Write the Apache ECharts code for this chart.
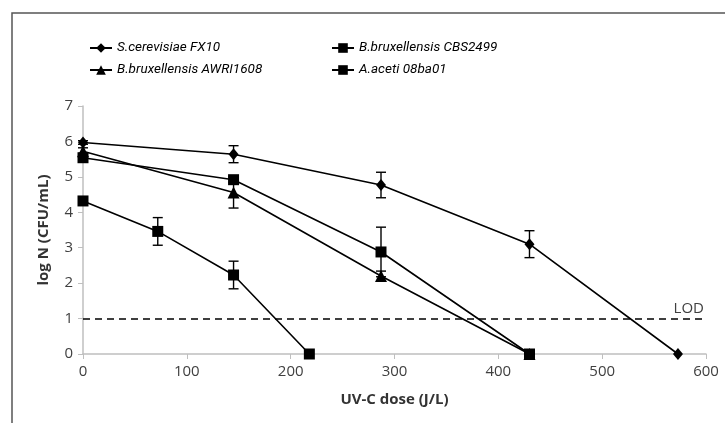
<!DOCTYPE html>
<html>
<head>
<meta charset="utf-8">
<script src="https://cdn.jsdelivr.net/npm/echarts@6/dist/echarts.min.js"></script>
<style>
  html, body { margin: 0; padding: 0; background: #fff; }
  #chart { width: 725px; height: 423px; }
</style>
</head>
<body>
<div id="chart"></div>
<script>
const seriesNames = [
  "S.cerevisiae FX10",
  "B.bruxellensis AWRI1608",
  "B.bruxellensis CBS2499",
  "A.aceti 08ba01",
];
const seriesSymbols = ["diamond", "triangle", "rect", "rect"];

// [dose, logN] pairs and matching error (±)
const scerevisiaeData = [[0, 5.97], [145, 5.64], [287, 4.77], [430, 3.1], [573, 0]];
const scerevisiaeErr = [0.05, 0.24, 0.36, 0.38, 0];
const awriData = [[0, 5.72], [145, 4.56], [287, 2.2], [430, 0]];
const awriErr = [0.1, 0.44, 0.14, 0];
const cbsData = [[0, 5.54], [145, 4.92], [287, 2.88], [430, 0]];
const cbsErr = [0.12, 0.08, 0.7, 0];
const acetiData = [[0, 4.32], [72, 3.46], [145, 2.23], [218, 0]];
const acetiErr = [0.06, 0.39, 0.39, 0];

const lodValue = 1;
const xTicks = { min: 0, max: 600, interval: 100 };
const yTicks = { min: 0, max: 7, interval: 1 };

const allData = [scerevisiaeData, awriData, cbsData, acetiData];
const allErr = [scerevisiaeErr, awriErr, cbsErr, acetiErr];
const symbolSizes = [[10, 12], 12, 11, 11];

const chart = echarts.init(document.getElementById("chart"));

const lineSeries = seriesNames.map((name, i) => ({
  name,
  type: "line",
  data: allData[i],
  symbol: seriesSymbols[i],
  symbolSize: symbolSizes[i],
  showAllSymbol: true,
  lineStyle: { color: "#000", width: 1.6 },
  itemStyle: { color: "#000" },
  z: 3,
  markLine: i === 0 ? {
    silent: true,
    symbol: "none",
    lineStyle: { color: "#000", type: [7, 5], width: 1.6 },
    label: {
      position: "insideEndTop",
      formatter: "LOD",
      color: "#404040",
      fontSize: 15,
      fontFamily: "Open Sans",
      distance: 2,
    },
    data: [{ yAxis: lodValue }],
  } : undefined,
}));

const errorSeries = seriesNames.map((name, i) => ({
  type: "custom",
  name: name + " err",
  data: allData[i].map((d, j) => [d[0], d[1] - allErr[i][j], d[1] + allErr[i][j]]),
  z: 2,
  renderItem(params, api) {
    const x = api.value(0);
    const lo = api.coord([x, api.value(1)]);
    const hi = api.coord([x, api.value(2)]);
    if (Math.abs(hi[1] - lo[1]) < 2) return null;
    const w = 5;
    const style = { stroke: "#000", lineWidth: 1.4 };
    return {
      type: "group",
      children: [
        { type: "line", shape: { x1: lo[0], y1: lo[1], x2: hi[0], y2: hi[1] }, style },
        { type: "line", shape: { x1: lo[0] - w, y1: lo[1], x2: lo[0] + w, y2: lo[1] }, style },
        { type: "line", shape: { x1: hi[0] - w, y1: hi[1], x2: hi[0] + w, y2: hi[1] }, style },
      ],
    };
  },
}));

const legendText = {
  fontSize: 13.5,
  fontStyle: "italic",
  fontFamily: "Roboto",
  color: "#000",
};

chart.setOption({
  animation: false,
  backgroundColor: "#fff",
  graphic: [{
    type: "rect",
    shape: { x: 12, y: 13, width: 800, height: 500 },
    style: { fill: "none", stroke: "#555", lineWidth: 1.5 },
    silent: true,
  }],
  legend: [
    {
      orient: "vertical",
      left: 84,
      top: 36,
      itemWidth: 22,
      itemHeight: 12,
      itemGap: 8,
      textStyle: legendText,
      data: [seriesNames[0], seriesNames[1]],
    },
    {
      orient: "vertical",
      left: 326,
      top: 36,
      itemWidth: 22,
      itemHeight: 12,
      itemGap: 8,
      textStyle: legendText,
      data: [seriesNames[2], seriesNames[3]],
    },
  ],
  grid: { left: 83, right: 19, top: 106, bottom: 69 },
  xAxis: {
    type: "value",
    ...xTicks,
    name: "UV-C dose (J/L)",
    nameLocation: "middle",
    nameGap: 38,
    nameTextStyle: { fontSize: 15, fontWeight: "bold", fontFamily: "Open Sans", color: "#333" },
    axisLine: { lineStyle: { color: "#bfbfbf", width: 1.5 } },
    axisTick: { show: true, length: 5, lineStyle: { color: "#bfbfbf" } },
    axisLabel: { fontSize: 15, fontFamily: "Open Sans", color: "#404040", margin: 10 },
    splitLine: { show: false },
  },
  yAxis: {
    type: "value",
    ...yTicks,
    name: "log N (CFU/mL)",
    nameLocation: "middle",
    nameGap: 32,
    nameTextStyle: { fontSize: 15, fontWeight: "bold", fontFamily: "Open Sans", color: "#333" },
    axisLine: { show: true, lineStyle: { color: "#bfbfbf", width: 1.5 } },
    axisTick: { show: true, length: 5, lineStyle: { color: "#bfbfbf" } },
    axisLabel: { fontSize: 15, fontFamily: "Open Sans", color: "#404040", margin: 10 },
    splitLine: { show: false },
  },
  series: [...errorSeries, ...lineSeries],
});
</script>
</body>
</html>
